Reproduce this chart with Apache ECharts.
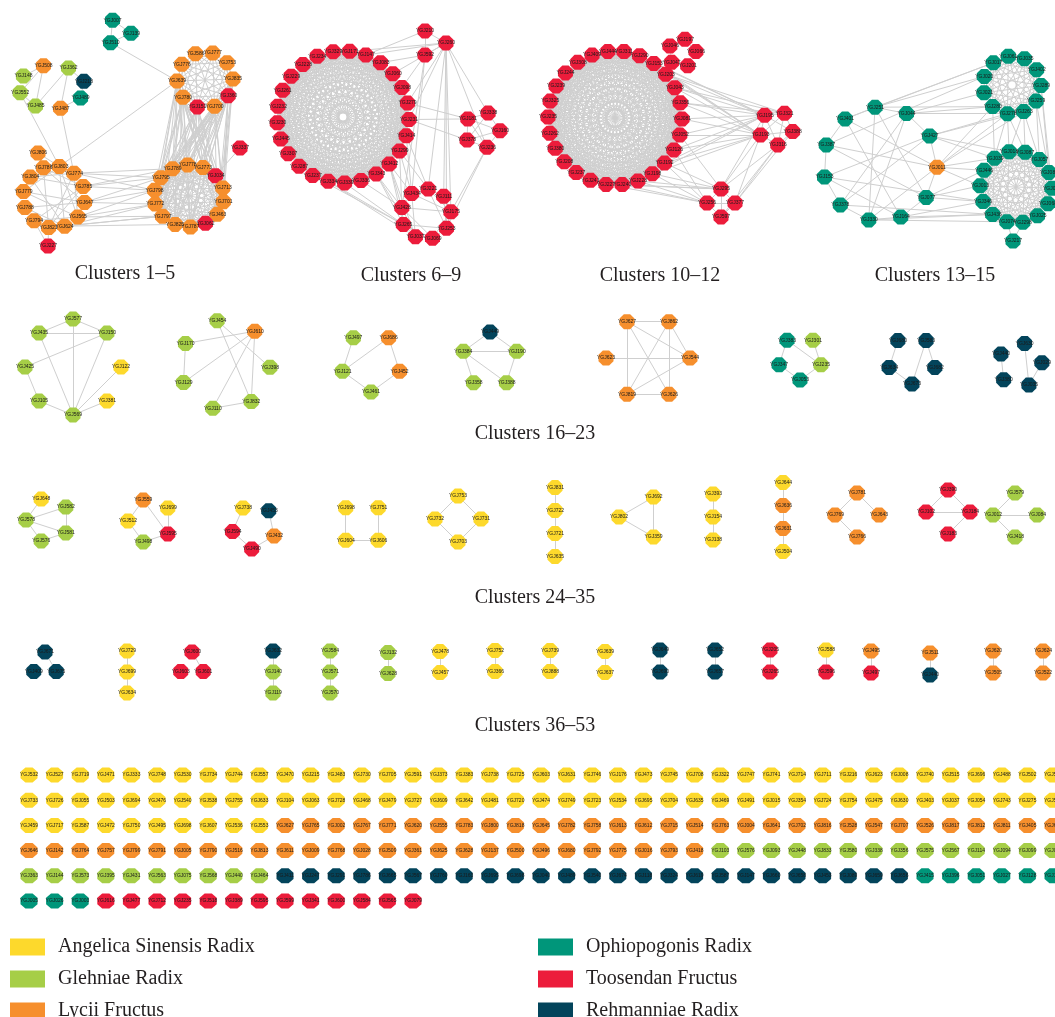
<!DOCTYPE html>
<html><head><meta charset="utf-8">
<script src="https://cdn.jsdelivr.net/npm/echarts@6/dist/echarts.min.js"></script>
<style>html,body{margin:0;padding:0;background:#fff}#chart{width:1055px;height:1017px}</style>
</head><body><div id="chart"></div>
<script>
// ---------------- DATA ----------------
const HERBS = ['Angelica Sinensis Radix','Glehniae Radix','Lycii Fructus','Ophiopogonis Radix','Toosendan Fructus','Rehmanniae Radix'];
const HERB_CODES = ['A','G','L','O','T','R'];
const TITLES = ['Clusters 1–5','Clusters 6–9','Clusters 10–12','Clusters 13–15','Clusters 16–23','Clusters 24–35','Clusters 36–53'];

// Clusters 1–5
const c1to5Nodes = [
  ['O007','O139','O510'],
  ['G148','L508','G362','R218','O489','L487','G485','G552'],
  ['L586','L777','L753','L835','T360','L700','T151','L780','L639','L776'],
  ['L786','L803','L774','L785','L647','L565','L624','L821','L794','L788','L779','L804'],
  ['L806'],
  ['T227'],
  ['L789','L778','L773','T034','L713','L701','L463','T062','L787','L825','L797','L772','L798','L795'],
  ['T337']
];
const c1to5Edges = ['007-139','007-510','139-510','510-639',
  '148-508','508-485','508-552','485-552','485-362','362-218','362-487','218-489','489-487','552-803','487-774','803-639',
  '786-785','786-647','803-624','803-565','804-774','804-785','779-647','779-565','788-624','794-565','821-774','794-785','788-647','804-624','779-803','786-821','774-565','785-821','806-786','806-803',
  '774-789','774-795','785-795','785-798','647-798','647-772','565-772','565-797','624-797','624-825','785-789','647-795','565-798','821-797','624-772','774-798',
  '227-821','227-794','337-034','034-773','062-787','062-463'];
const c1to5Cliques = [2, 6];
const c1to5Bundles = [[['780','151','700','360','835','639'],['789','778','773','713','701','463','787','825','797','772','798','795']]];

// Clusters 6–9
const c6to9Nodes = [
  ['T234','T329','T171','T147','T083','T060','T098','T279','T231','T414','T299','T412','T343','T336','T339','T334','T237','T287','T307','T445','T230','T232','T261','T229','T228'],
  ['T210','T260','T592'],
  ['T338','T160','T236','T378','T181'],
  ['T434','T221','T111','T175','T253','T069','T037','T265','T428']
];
const c6to9Edges = ['210-260','210-592','260-592','260-147','260-171','592-083','260-231','260-111','260-175','260-253','260-338','260-236','592-434','260-221','592-428','210-147','260-279','592-098','260-060',
  '338-181','338-160','181-378','160-236','378-236','181-236','338-378','160-378','181-160','231-378','231-181','279-181','236-253','236-175',
  '434-221','221-111','111-175','175-253','253-069','069-037','037-265','265-428','428-434','434-175','221-175','428-175','428-069','265-069','221-253','111-253','428-037','434-037','175-069','265-253',
  '412-428','412-434','343-428','343-265','299-434','299-428','414-221','339-265','334-265','334-037','336-428','412-265','343-037','299-221','414-434','237-265','412-037'];
const c6to9Cliques = [0];
const c6to9Bundles = [];

// Clusters 10–12
const c10to12Nodes = [
  ['T409','T444','T311','T290','T153','T203','T043','T356','T081','T052','T126','T192','T198','T228','T240','T227','T241','T237','T208','T380','T262','T235','T325','T239','T244','T308'],
  ['T046','T197','T066','T201','T047'],
  ['T321','T388','T316','T193','T195'],
  ['T295','T377','T597','T256']
];
const c10to12Edges = ['046-047','197-066','047-201','203-321','043-321','356-321','195-295','193-295','193-377','316-377','316-597','388-377','316-295','126-256','052-295','081-193'];
const c10to12Cliques = [0, 2, 3];
const c10to12Bundles = [[['203','043','356','081','052','126','192','198','153','290'],['195','193']],[['192','198','228','240','227'],['295','256']]];

// Clusters 13–15
const c13to15Nodes = [
  ['O251','O044','O427','L011','O077','O164','O330','O378','O153','O387','O401'],
  ['O017','O061','O035','O402','O289','O259','O263','O278','O280','O021','O020'],
  ['O018','O087','O057','O082','O065','O068','O025','O298','O074','O436','O346','O013','O446','O039'],
  ['O217']
];
const c13to15Edges = ['251-044','251-401','401-387','387-153','153-378','378-330','330-164','164-077','077-011','011-427','427-044','251-330','401-164','387-077','153-427','378-044','044-330','251-077','401-011','387-011','153-164','378-427','330-011',
  '251-017','251-020','251-280','044-280','044-278','044-021','427-278','427-263','011-280','011-278','011-263','401-017','387-020',
  '011-039','011-446','011-013','077-446','077-013','077-346','164-436','164-346','330-436','330-074','378-436','153-346','427-039','427-018',
  '278-018','263-087','259-057','280-039','278-039','263-018','289-082','259-082','263-057','278-087','289-065','217-074','217-298'];
const c13to15Cliques = [1, 2];
const c13to15Bundles = [];

// Clusters 16–23
const c16to23Nodes = [
  ['G577','G150','A122','A381','G569','G105','G425','G435'],
  ['G454','L610','G398','G832','G110','G129','G170'],
  ['G497','L686','L452','G461','G121'],
  ['R449','G190','G388','G358','G384'],
  ['L627','L862','L544','L626','L819','L623'],
  ['O383','G301','G235','O053','O347'],
  ['R680','R583','R682','R673','R634'],
  ['R440','R630','R029','R035','R380']
];
const c16to23Edges = ['577-435','577-150','435-150','577-569','435-569','150-569','150-425','425-105','105-569','122-569','381-569',
  '454-832','454-398','610-170','610-129','610-832','610-110','170-129','110-832',
  '497-121','686-452','452-461','461-121','686-121',
  '449-384','449-190','384-358','384-190','384-388','388-190',
  '627-862','627-819','627-544','627-626','862-544','862-626','862-819','623-544','819-626','819-544',
  '383-347','383-235','301-235','347-053','235-053',
  '680-634','583-682','673-634','583-673',
  '440-380','630-035','029-035'];

// Clusters 24–35
const c24to35Nodes = [
  ['A648','G582','G581','G576','G578'],
  ['L559','A699','T595','G498','A512'],
  ['A738','R453','L432','T490','T594'],
  ['A698','A751','A606','A604'],
  ['A753','A731','A703','A732'],
  ['A831','A722','A721','A635'],
  ['A692','A359','A802'],
  ['A393','A154','A138'],
  ['A644','L636','L631','A504'],
  ['L781','L643','L766','L769'],
  ['T390','T184','T183','T102'],
  ['G579','G084','G418','G012']
];
const c24to35Edges = ['648-578','582-578','582-581','578-581','581-576','578-576','559-512','699-595','512-498','595-498','559-595',
  '738-594','453-432','594-490','432-490','698-604','751-606','606-604','753-732','753-731','731-703','732-703',
  '831-722','722-721','721-635','692-802','692-359','802-359','393-154','154-138','644-636','636-631','631-504',
  '781-769','781-643','769-766','390-184','390-102','184-102','184-183','579-012','012-418','012-084'];

// Clusters 36–53
const c36to53Nodes = [
  ['R671','R675','R409'], ['A729','A699','A634'], ['T600','T601','T603'], ['R632','G140','G119'],
  ['G584','G571','G570'], ['G132','G628'], ['A478','A457'], ['A752','A366'], ['A739','A888'],
  ['A639','A637'], ['R649','R690'], ['R652','R657'], ['T205','T265'], ['A588','T596'],
  ['L495','T497'], ['L511','R440'], ['L620','L505'], ['L624','L522']
];
const c36to53Edges = ['671-675','729-699','699-634','600-601','632-140','140-119','584-571','571-570','132-628','478-457','752-366','739-888','639-637','649-690','652-657','205-265','588-596','495-497','511-440','620-505','624-522'];

// Single (unconnected) nodes, reading order row by row
const singlesRow1 = ['A532','A527','A719','A471','A333','A748','A530','A734','A744','A557','A470','A215','A483','A730','A705','A591','A373','A383','A738','A725','A603','A631','A746','A176','A473','A745','A708','A322','A747','A741','A714','A711','A216','A623','A008','A740','A515','A696','A488','A502','A529'];
const singlesRow2 = ['A733','A726','A055','A503','A694','A476','A540','A538','A755','A633','A104','A063','A728','A468','A479','A727','A609','A642','A481','A720','A474','A749','A723','A534','A695','A704','A635','A469','A491','A015','A354','A724','A754','A475','A630','A403','A037','A054','A743','A275','A551'];
const singlesRow3 = ['A459','A717','A587','A472','A750','A495','A698','A607','A536','A553','L627','L765','L002','L767','L771','L620','L555','L783','L800','L818','L645','L782','L758','L613','L612','L715','L514','L763','L004','L641','L702','L816','L528','L547','L707','L526','L817','L812','L811','L405','L622'];
const singlesRow4 = ['L646','L142','L764','L757','L799','L791','L005','L790','L516','L813','L611','L009','L768','L028','L509','L361','L625','L628','L137','L500','L496','L680','L792','L775','L016','L793','L418','G103','G576','G093','G448','G833','G580','G338','G356','G575','G567','G114','G094','G099','G091'];
const singlesRow5 = ['G363','G144','G573','G395','G431','G563','G075','G568','G440','G464','R411','R247','R291','R786','R665','R567','R760','R163','R695','R698','R040','R489','R540','R674','R118','R324','R619','R587','R147','R660','R658','R453','R089','R659','R656','O415','O396','O051','O027','O128','O129'];
const singlesRow6 = ['O005','O026','O003','T616','T477','T712','T235','T518','T389','T595','T599','T341','T600','T584','T565','T079'];

// ---------------- STYLE / LAYOUT ----------------
const HERB_COLORS = ['#fdd92c','#a6ce47','#f68f2d','#00967a','#ec1c3b','#03445b'];
const OCT = 'path://M29,0L71,0L100,29L100,71L71,100L29,100L0,71L0,29Z';
const EDGE_COLOR = '#cfcfcf';

const L1 = [{cx:118,cy:32,r:13,a0:-115},{cx:52,cy:87,r:33,ry:22,a0:-150},{cx:205,cy:80,r:28,a0:-110},{cx:54,cy:197,r:31,a0:-110},{cx:38,cy:153},{cx:48,cy:246},{cx:189,cy:196,r:35,ry:31,a0:-118},{cx:240,cy:148}];
const L2 = [{cx:343,cy:117,r:66,a0:-113},{cx:432,cy:43,r:14,a0:-120},{cx:482,cy:130,r:18,a0:-70},{cx:426,cy:214,r:25,a0:-125}];
const L3 = [{cx:615,cy:118,r:67,a0:-110},{cx:682,cy:53,r:14,a0:-150},{cx:776,cy:128,r:17,a0:-60},{cx:721,cy:203,r:14,a0:-90}];
const L4 = [{cx:880,cy:164,r:57,a0:-95},{cx:1012,cy:85,r:29,a0:-130},{cx:1016,cy:187,r:36,a0:-101},{cx:1013,cy:241}];
const L5 = [{cx:73,cy:367,r:48,a0:-90},{cx:225,cy:365,r:45,a0:-100},{cx:371,cy:362,r:30,a0:-126},{cx:490,cy:360,r:28,a0:-90},{cx:648,cy:358,r:42,a0:-120},{cx:800,cy:358,r:22,a0:-126},{cx:912,cy:360,r:24,a0:-126},{cx:1020,cy:365,r:22,a0:-150}];
const L6 = [{cx:48,cy:520,r:22,a0:-108},{cx:150,cy:521,r:22,a0:-108},{cx:254,cy:527,r:22,a0:-120},{cx:362,cy:524,r:23,a0:-135},{cx:458,cy:519,r:23,a0:-90},{col:true,cx:555,cy:522,gap:23},{cx:642,cy:517,r:23,a0:-60},{col:true,cx:713,cy:517,gap:23},{col:true,cx:783,cy:517,gap:23},{cx:857,cy:515,r:22,a0:-90},{cx:948,cy:512,r:22,a0:-90},{cx:1015,cy:515,r:22,a0:-90}];
const L7 = [{cx:45,cy:665,r:13,a0:-90},{col:true,cx:127,cy:672,gap:21},{cx:192,cy:665,r:13,a0:-90},{col:true,cx:273,cy:672,gap:21},{col:true,cx:330,cy:672,gap:21},{col:true,cx:388,cy:663,gap:21},{col:true,cx:440,cy:662,gap:21},{col:true,cx:495,cy:661,gap:21},{col:true,cx:550,cy:661,gap:21},{col:true,cx:605,cy:662,gap:21},{col:true,cx:660,cy:661,gap:22},{col:true,cx:715,cy:661,gap:22},{col:true,cx:770,cy:661,gap:22},{col:true,cx:826,cy:661,gap:22},{col:true,cx:871,cy:662,gap:22},{col:true,cx:930,cy:664,gap:22},{col:true,cx:993,cy:662,gap:22},{col:true,cx:1043,cy:662,gap:22}];
const SINGLE_GRID = {x0:29, dx:25.6, y0:775, dy:25.2};
const TITLE_POS = [[125,274],[411,276],[660,276],[935,276],[535,434],[535,598],[535,726]];

// ---------------- BUILD ----------------
function buildGraph(clusters, layout, edges, cliques, bundles) {
  const nodes = [], index = {};
  clusters.forEach((cl, ci) => {
    const s = layout[ci], n = cl.length;
    cl.forEach((code, i) => {
      let x, y;
      if (s.col) { x = s.cx; y = s.cy + (i - (n - 1) / 2) * s.gap; }
      else if (n === 1) { x = s.cx; y = s.cy; }
      else {
        const a = (s.a0 + i * 360 / n) * Math.PI / 180;
        x = s.cx + s.r * Math.cos(a); y = s.cy + (s.ry || s.r) * Math.sin(a);
      }
      const num = code.slice(1);
      index[num] = nodes.length;
      nodes.push({ id: ci + '_' + num, name: 'YGJ' + num, value: [x, y], category: HERB_CODES.indexOf(code[0]) });
    });
  });
  const links = [], seen = {};
  const add = (a, b) => {
    const ia = index[a], ib = index[b];
    if (ia == null || ib == null || ia === ib) return;
    const k = Math.min(ia, ib) + '-' + Math.max(ia, ib);
    if (seen[k]) return; seen[k] = 1;
    links.push({ source: nodes[ia].id, target: nodes[ib].id });
  };
  (cliques || []).forEach(ci => {
    const nums = clusters[ci].map(c => c.slice(1));
    for (let i = 0; i < nums.length; i++) for (let j = i + 1; j < nums.length; j++) add(nums[i], nums[j]);
  });
  (bundles || []).forEach(([p, q]) => p.forEach(a => q.forEach(b => add(a, b))));
  edges.forEach(e => { const [a, b] = e.split('-'); add(a, b); });
  return {
    type: 'graph', coordinateSystem: 'cartesian2d', layout: 'none', silent: true,
    symbol: OCT, symbolSize: 15,
    categories: HERBS.map((h, i) => ({ name: h, itemStyle: { color: HERB_COLORS[i] } })),
    label: { show: true, position: 'inside', fontSize: 5, color: '#1a1a1a', fontFamily: 'Liberation Sans' },
    lineStyle: { color: EDGE_COLOR, width: 1, opacity: 1, curveness: 0 },
    emphasis: { disabled: true },
    data: nodes, links: links
  };
}

const series = [
  buildGraph(c1to5Nodes, L1, c1to5Edges, c1to5Cliques, c1to5Bundles),
  buildGraph(c6to9Nodes, L2, c6to9Edges, c6to9Cliques, c6to9Bundles),
  buildGraph(c10to12Nodes, L3, c10to12Edges, c10to12Cliques, c10to12Bundles),
  buildGraph(c13to15Nodes, L4, c13to15Edges, c13to15Cliques, c13to15Bundles),
  buildGraph(c16to23Nodes, L5, c16to23Edges),
  buildGraph(c24to35Nodes, L6, c24to35Edges),
  buildGraph(c36to53Nodes, L7, c36to53Edges)
];

const singlePoints = HERBS.map(() => []);
[singlesRow1, singlesRow2, singlesRow3, singlesRow4, singlesRow5, singlesRow6].forEach((row, r) => {
  row.forEach((code, c) => {
    singlePoints[HERB_CODES.indexOf(code[0])].push({
      name: 'YGJ' + code.slice(1),
      value: [SINGLE_GRID.x0 + c * SINGLE_GRID.dx, SINGLE_GRID.y0 + r * SINGLE_GRID.dy]
    });
  });
});
HERBS.forEach((h, i) => series.push({
  type: 'scatter', name: h, silent: true, symbol: OCT, symbolSize: [17, 15], clip: false,
  itemStyle: { color: HERB_COLORS[i], opacity: 1 },
  label: { show: true, position: 'inside', formatter: '{b}', fontSize: 5, color: '#1a1a1a', fontFamily: 'Liberation Sans' },
  emphasis: { disabled: true },
  data: singlePoints[i]
}));

const legendCommon = {
  orient: 'vertical', icon: 'rect', itemWidth: 35, itemHeight: 17, itemGap: 12, selectedMode: false,
  height: 200, padding: 0,
  textStyle: { fontFamily: 'Liberation Serif', fontSize: 20, color: '#231f20', padding: [0, 0, 0, 8] }
};

const chart = echarts.init(document.getElementById('chart'), null, { renderer: 'canvas' });
chart.setOption({
  animation: false,
  backgroundColor: '#ffffff',
  grid: { left: 0, right: 0, top: 0, bottom: 0 },
  xAxis: { type: 'value', min: 0, max: 1055, show: false },
  yAxis: { type: 'value', min: 0, max: 1017, inverse: true, show: false },
  legend: [
    Object.assign({ data: HERBS.slice(0, 3), left: 10, top: 937 }, legendCommon),
    Object.assign({ data: HERBS.slice(3), left: 538, top: 937 }, legendCommon)
  ],
  graphic: TITLES.map((t, i) => ({
    type: 'text', x: TITLE_POS[i][0], y: TITLE_POS[i][1], silent: true,
    style: { text: t, font: '20px "Liberation Serif"', fill: '#231f20', align: 'center', verticalAlign: 'middle', textAlign: 'center', textVerticalAlign: 'middle' }
  })),
  series: series
});
</script></body></html>
